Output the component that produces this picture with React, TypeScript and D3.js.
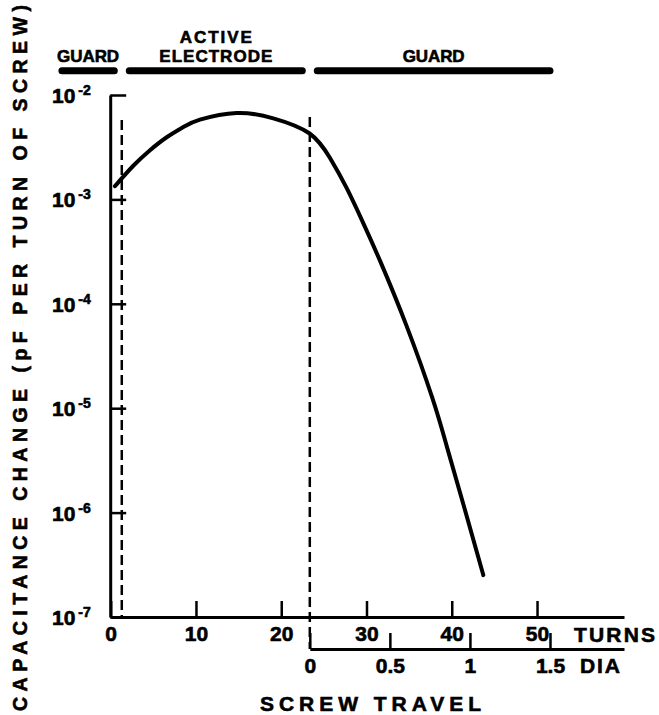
import React, { useRef, useEffect } from "react";
import * as d3 from "d3";

// screw travel in turns vs capacitance change (pF per turn)
const turns = [0.5, 2.65, 4.61, 6.57, 8.51, 10.47, 14.78, 19.07, 23.29, 25.72, 27.68, 29.62, 31.58, 34.71, 37.74, 39.4, 41.35, 43.7];
const capChange = [1.34e-3, 2.1e-3, 2.96e-3, 3.94e-3, 4.93e-3, 5.8e-3, 6.73e-3, 5.98e-3, 4.3e-3, 2.49e-3, 1.28e-3, 5.93e-4, 2.59e-4, 6.11e-5, 1.24e-5, 4.36e-6, 1.21e-6, 2.52e-7];

// axis ticks
const turnTicks = [0, 10, 20, 30, 40, 50];
const diaTicks = [0, 0.5, 1, 1.5];
const decades = [-2, -3, -4, -5, -6, -7];

// electrode regions along the travel (turns)
const regionNames = ["GUARD", "ACTIVE ELECTRODE", "GUARD"];
const regionStart = [-6.6, 1.3, 23.35];
const regionEnd = [1.3, 23.35, 52.4];
const turnsPerDia = 18.78;

const W = 659;
const H = 715;

const App = () => {
  const ref = useRef<SVGSVGElement>(null);

  useEffect(() => {
    const svg = d3.select(ref.current);
    svg.selectAll("*").remove();
    const font = "'Liberation Sans', Arial, sans-serif";

    const x = d3.scaleLinear().domain([0, 60.2]).range([110.7, 624]);
    const y = d3.scaleLog().domain([1e-7, 1e-2]).range([617, 95]);
    const diaOrigin = regionStart[2];
    const dia = d3.scaleLinear()
      .domain([0, (60.2 - diaOrigin) / turnsPerDia])
      .range([x(diaOrigin), 624]);

    // bold-ish lettering like the hand-lettered original
    const ink = (sel: any) => sel.attr("fill", "#000").attr("stroke", "#000").attr("stroke-width", 0.6);

    // x axis (turns)
    const xAxis = svg.append("g")
      .attr("transform", "translate(0,617)")
      .call(d3.axisBottom(x).tickValues(turnTicks).tickSizeInner(-16).tickSizeOuter(0).tickPadding(9).tickFormat(d3.format("d")));
    xAxis.attr("font-size", 21).attr("font-family", font).attr("font-weight", "bold");
    xAxis.select(".domain").attr("stroke-width", 3);
    xAxis.selectAll("line").attr("stroke-width", 2.5);
    ink(xAxis.selectAll("text"));

    ink(svg.append("text")
      .attr("x", 574).attr("y", 641.5)
      .attr("font-family", font).attr("font-weight", "bold").attr("font-size", 21)
      .attr("textLength", 81).attr("lengthAdjust", "spacing")
      .text("TURNS"));

    // secondary axis (diameters)
    const diaAxis = svg.append("g")
      .attr("transform", "translate(0,649)")
      .call(d3.axisBottom(dia).tickValues(diaTicks).tickSizeInner(-16).tickSizeOuter(0).tickPadding(9).tickFormat((d) => String(d)));
    diaAxis.attr("font-size", 21).attr("font-family", font).attr("font-weight", "bold");
    diaAxis.select(".domain").attr("stroke-width", 3);
    diaAxis.selectAll("line").attr("stroke-width", 2.5);
    ink(diaAxis.selectAll("text"));

    ink(svg.append("text")
      .attr("x", 580).attr("y", 673)
      .attr("font-family", font).attr("font-weight", "bold").attr("font-size", 21)
      .attr("textLength", 40).attr("lengthAdjust", "spacing")
      .text("DIA"));

    ink(svg.append("text")
      .attr("x", 370.5).attr("y", 711)
      .attr("text-anchor", "middle")
      .attr("font-family", font).attr("font-weight", "bold").attr("font-size", 21)
      .attr("textLength", 221).attr("lengthAdjust", "spacing")
      .text("SCREW TRAVEL"));

    // y axis (log)
    const yAxis = svg.append("g")
      .attr("transform", "translate(110.2,0)")
      .call(d3.axisLeft(y).tickValues(decades.map((e) => Math.pow(10, e))).tickSizeInner(-16).tickSizeOuter(0).tickFormat(() => ""));
    yAxis.select(".domain").attr("stroke-width", 3);
    yAxis.selectAll("line").attr("stroke-width", 2.5);

    const yLabels = svg.append("g")
      .attr("font-family", font).attr("font-weight", "bold");
    decades.forEach((e) => {
      const t = ink(yLabels.append("text")
        .attr("x", 52).attr("y", y(Math.pow(10, e)) + 8)
        .attr("font-size", 21));
      t.append("tspan").text("10");
      t.append("tspan").attr("dx", 3).attr("dy", -8).attr("font-size", 14).text(`-${-e}`);
    });

    ink(svg.append("text")
      .attr("transform", "translate(27,358) rotate(-90)")
      .attr("text-anchor", "middle")
      .attr("font-family", font).attr("font-weight", "bold").attr("font-size", 19.5)
      .attr("textLength", 706).attr("lengthAdjust", "spacing")
      .text("CAPACITANCE CHANGE (pF PER TURN OF SCREW)"));

    // dashed region boundaries
    svg.append("line")
      .attr("x1", x(regionStart[1])).attr("x2", x(regionStart[1]))
      .attr("y1", 120).attr("y2", 617)
      .attr("stroke", "#000").attr("stroke-width", 2.5).attr("stroke-dasharray", "10 5");
    svg.append("line")
      .attr("x1", x(regionStart[2])).attr("x2", x(regionStart[2]))
      .attr("y1", 117).attr("y2", 649)
      .attr("stroke", "#000").attr("stroke-width", 2.5).attr("stroke-dasharray", "10 5");

    // region bars + labels
    const widths: Record<string, number> = { GUARD: 62, ACTIVE: 72, ELECTRODE: 113 };
    regionNames.forEach((name, i) => {
      const x0 = x(regionStart[i]) + 4;
      const x1 = x(regionEnd[i]) - 4;
      svg.append("rect")
        .attr("x", x0).attr("y", 67.2)
        .attr("width", x1 - x0).attr("height", 7)
        .attr("rx", 3.5)
        .attr("fill", "#000");
      const cx = (x0 + x1) / 2;
      const words = name === "ACTIVE ELECTRODE" ? ["ACTIVE", "ELECTRODE"] : [name];
      words.forEach((w, j) => {
        ink(svg.append("text")
          .attr("x", cx).attr("y", 61.7 - (words.length - 1 - j) * 19)
          .attr("text-anchor", "middle")
          .attr("font-family", font).attr("font-weight", "bold").attr("font-size", 17)
          .attr("textLength", widths[w]).attr("lengthAdjust", "spacing")
          .text(w));
      });
    });

    // the curve
    const pts: [number, number][] = turns.map((t, i) => [t, capChange[i]]);
    const line = d3.line<[number, number]>()
      .x((d) => x(d[0]))
      .y((d) => y(d[1]))
      .curve(d3.curveNatural);
    svg.append("path")
      .datum(pts)
      .attr("fill", "none")
      .attr("stroke", "#000")
      .attr("stroke-width", 4)
      .attr("stroke-linecap", "round")
      .attr("d", line);
  }, []);

  return (
    <svg ref={ref} width={W} height={H} style={{ position: "absolute", left: 0, top: 0, background: "#fff" }} />
  );
};

export default App;
